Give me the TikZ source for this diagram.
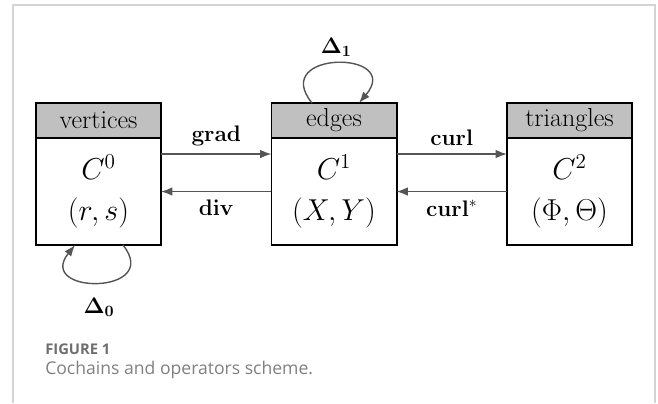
\documentclass[tikz,border=0pt]{standalone}
\usepackage{fix-cm}
\usepackage{amsmath}
\usepackage[no-math]{fontspec}
\newfontfamily\capfont{Open Sans}
\usetikzlibrary{positioning}
\usetikzlibrary{calc}
\usetikzlibrary{arrows.meta}
\definecolor{headgray}{RGB}{192,192,192}
\definecolor{arrowgray}{RGB}{85,85,85}
\definecolor{framegray}{RGB}{212,212,212}
\definecolor{figgray}{RGB}{110,110,110}
\definecolor{capgray}{RGB}{128,128,128}

\begin{document}
\begin{tikzpicture}[x=0.025cm,y=-0.025cm]
		\tikzset{
			headnode/.style={draw=black,fill=headgray,line width=1.4pt,minimum width=3.125cm,minimum height=0.875cm,inner sep=0pt,outer sep=0pt,font=\fontsize{18.5}{21}\selectfont},
		}
		\tikzset{
			bodynode/.style={draw=black,fill=white,line width=1.4pt,minimum width=3.125cm,minimum height=2.675cm,inner sep=0pt,outer sep=0pt,align=center,font=\fontsize{21.5}{29}\selectfont},
		}
		\tikzset{
			edge/.style={color=arrowgray,line width=1pt,-{Latex[length=8pt,width=6pt]}},
		}
		\tikzset{
			oplabel/.style={text=black,font=\fontsize{16}{19}\selectfont},
		}
		\newcommand{\w}{235.5}
		\newcommand{\h}{120.5}
		
		\useasboundingbox (0,0) rectangle (658,403);
		\draw[framegray,line width=0.8pt] (13,403) -- (13,5) -- (655,5) -- (655,403);
		
		\node[headnode] (vhead) at (98.5, \h) {vertices};
		\node[bodynode, below=0pt of vhead] (vbody) {$C^0$\\$(r,s)$};
		
		\node[headnode] (ehead) at (98.5+\w, \h) {edges};
		\node[bodynode, below=0pt of ehead] (ebody) {$C^1$\\$(X,Y)$};
		
		\node[headnode] (thead) at (98.5+\w*2, \h) {triangles};
		\node[bodynode, below=0pt of thead] (tbody) {$C^2$\\$(\Phi,\Theta)$};
		
		\draw[edge] ($(vbody.east)+(0,-37.5)$) to node[midway,above=2pt,oplabel] {$\mathbf{grad}$} ($(ebody.west)+(0,-37.5)$);
		\draw[edge] (ebody.west) to node[midway,below=2pt,oplabel] {$\mathbf{div}$} (vbody.east);
		\draw[edge] ($(ebody.east)+(0,-37.5)$) to node[midway,above=2pt,oplabel] {$\mathbf{curl}$} ($(tbody.west)+(0,-37.5)$);
		\draw[edge] (tbody.west) to node[midway,below=2pt,oplabel] {$\mathbf{curl}^*$} (ebody.east);
		
		\draw[edge] ($(ehead.north)+(-22,0)$) .. controls +(-43,-53) and +(45,-53) .. node[pos=0.5,above=1pt,oplabel] (d1) {$\mathbf{\Delta_1}$} ($(ehead.north)+(25,0)$);
		\draw[edge] ($(vbody.south)+(24.5,0)$) .. controls +(40,50) and +(-40,50) .. node[pos=0.5,below=7pt,oplabel] (d0) {$\mathbf{\Delta_0}$} ($(vbody.south)+(-23.5,0)$);
		
		\node[anchor=base west,inner sep=0pt,text=figgray,font=\capfont\bfseries\fontsize{10.5}{12}\selectfont] (fig) at (45,354) {FIGURE 1};
		\node[anchor=base west,inner sep=0pt,text=capgray,font=\capfont\fontsize{12.5}{15}\selectfont] (cap) at (45,374) {Cochains and operators scheme.};
	\end{tikzpicture}
\end{document}
